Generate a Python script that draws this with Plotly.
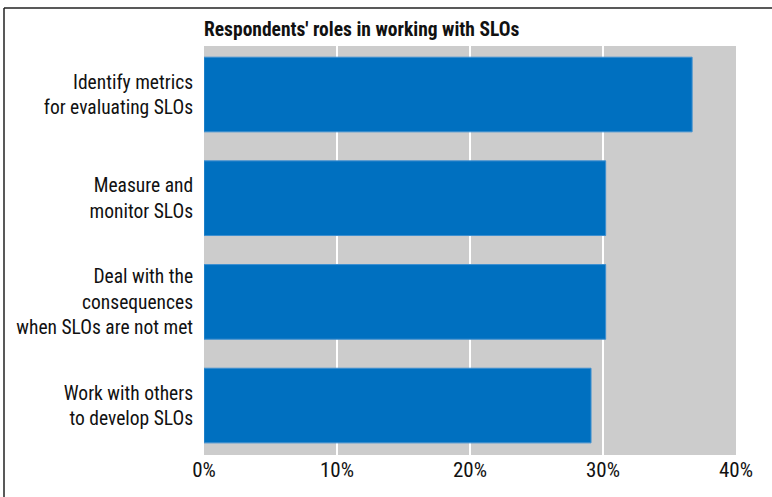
import plotly.graph_objects as go

categories = [
    "Identify metrics<br>for evaluating SLOs",
    "Measure and<br>monitor SLOs",
    "Deal with the<br>consequences<br>when SLOs are not met",
    "Work with others<br>to develop SLOs",
]
values = [0.367, 0.302, 0.302, 0.291]
x_ticks = [0, 0.1, 0.2, 0.3, 0.4]
x_tick_labels = ["0%", "10%", "20%", "30%", "40%"]
title_text = "Respondents' roles in working with SLOs"

W, H = 772, 497
L, R, T, B = 204, 36, 46, 42
pw, ph = W - L - R, H - T - B

FONT = "Roboto Condensed, Roboto, sans-serif"

fig = go.Figure(go.Bar(
    y=list(range(len(categories))),
    x=values,
    orientation="h",
    width=0.72,
    marker=dict(color="#0070C0", line=dict(color="#3D8FD0", width=1)),
))

bx = (4 - L) / pw
by = (H - T - 4) / ph
fig.update_layout(
    width=W, height=H,
    margin=dict(l=L, r=R, t=T, b=B, autoexpand=False),
    paper_bgcolor="white",
    plot_bgcolor="#CCCCCC",
    showlegend=False,
    font=dict(family=FONT, size=19.5, color="#111111"),
    title=dict(text="<b>" + title_text + "</b>", x=L / W, xanchor="left",
               y=1 - 29 / H, yanchor="middle",
               font=dict(family=FONT, size=19.5, color="#111111")),
    xaxis=dict(range=[0, 0.4], tickvals=x_ticks, ticktext=x_tick_labels,
               tickfont=dict(size=21),
               showgrid=True, gridcolor="white", gridwidth=2, zeroline=False,
               showline=False, ticks="", fixedrange=True, automargin=False),
    yaxis=dict(range=[3.477, -0.468], tickvals=list(range(len(categories))),
               ticktext=categories, showgrid=False, zeroline=False, automargin=False,
               tickfont=dict(size=19.5),
               ticks="outside", ticklen=6, tickcolor="rgba(0,0,0,0)"),
    shapes=[
        dict(type="line", xref="paper", yref="paper", x0=bx, x1=bx,
             y0=-B / ph - 0.05, y1=by, line=dict(color="#222222", width=1.5)),
        dict(type="line", xref="paper", yref="paper", x0=bx, x1=(W - L) / pw + 0.05,
             y0=by, y1=by, line=dict(color="#222222", width=1.5)),
    ],
)

fig.write_html("out.html")
